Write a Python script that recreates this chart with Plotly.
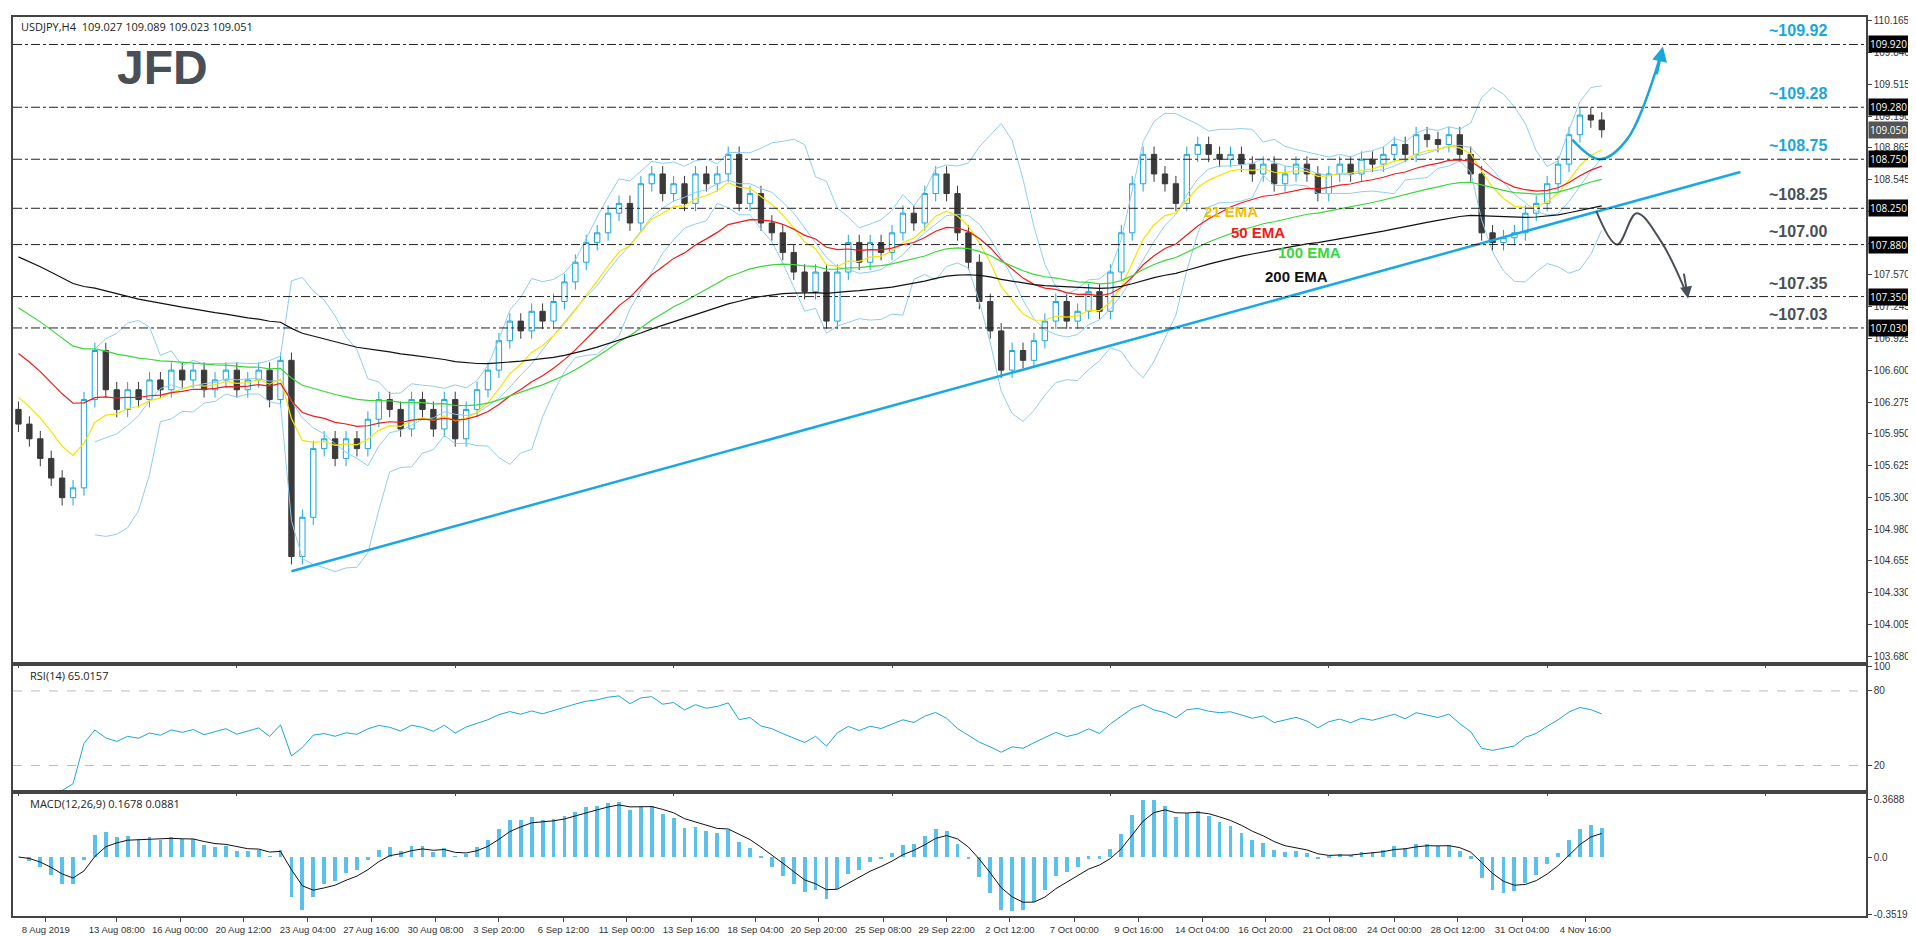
import numpy as np
import pandas as pd
import plotly.graph_objects as go
from plotly.subplots import make_subplots

# closes (compressed to ~146 bars)
closes = [106.05, 105.9, 105.7, 105.5, 105.3, 105.4, 106.3, 106.8, 106.4, 106.2,
          106.4, 106.3, 106.5, 106.4, 106.6, 106.5, 106.6, 106.4, 106.5, 106.6,
          106.4, 106.5, 106.6, 106.3, 106.7, 104.7, 105.1, 105.8, 105.9, 105.7,
          105.9, 105.8, 106.1, 106.3, 106.2, 106.0, 106.3, 106.2, 106.0, 106.3,
          105.9, 106.2, 106.4, 106.6, 106.9, 107.1, 107.0, 107.2, 107.1, 107.3,
          107.5, 107.7, 107.9, 108.0, 108.2, 108.3, 108.1, 108.5, 108.6, 108.4,
          108.5, 108.3, 108.6, 108.5, 108.6, 108.8, 108.3, 108.4, 108.1, 108.0,
          107.8, 107.6, 107.4, 107.6, 107.1, 107.6, 107.9, 107.7, 107.9, 107.8,
          108.0, 108.2, 108.1, 108.4, 108.6, 108.4, 108.0, 107.7, 107.3, 107.0,
          106.6, 106.8, 106.7, 106.9, 107.1, 107.3, 107.1, 107.2, 107.4, 107.2,
          107.6, 108.0, 108.5, 108.8, 108.6, 108.5, 108.3, 108.8, 108.9, 108.8,
          108.75, 108.8, 108.7, 108.6, 108.7, 108.5, 108.6, 108.7, 108.6, 108.4,
          108.6, 108.7, 108.6, 108.75, 108.7, 108.8, 108.9, 108.8, 109.0, 108.95,
          108.9, 109.0, 108.8, 108.6, 108.0, 107.9, 107.95, 108.0, 108.2, 108.3,
          108.5, 108.7, 109.0, 109.2, 109.15, 109.05]
first_open = 106.2
wick = 0.08

# EMA starting values at left edge
ema_seeds = {21: 106.4, 50: 106.85, 100: 107.3, 200: 107.8}
ema_colors = {21: "#f5e400", 50: "#ee1c1c", 100: "#3ad63a", 200: "#111111"}

levels = [109.92, 109.28, 108.75, 108.25, 107.88, 107.35, 107.03]
level_text = ["~109.92", "~109.28", "~108.75", "~108.25", "~107.00", "~107.35", "~107.03"]
level_color = ["#1aa7d8", "#1aa7d8", "#1aa7d8", "#4a4f57", "#4a4f57", "#4a4f57", "#4a4f57"]

price_ticks = [110.165, 109.840, 109.515, 109.190, 108.865, 108.545, 108.220, 107.895,
               107.570, 107.245, 106.925, 106.600, 106.275, 105.950, 105.625, 105.300,
               104.980, 104.655, 104.330, 104.005, 103.680]

date_labels = ["8 Aug 2019", "13 Aug 08:00", "16 Aug 00:00", "20 Aug 12:00", "23 Aug 04:00",
               "27 Aug 16:00", "30 Aug 08:00", "3 Sep 20:00", "6 Sep 12:00", "11 Sep 00:00",
               "13 Sep 16:00", "18 Sep 04:00", "20 Sep 20:00", "25 Sep 08:00", "29 Sep 22:00",
               "2 Oct 12:00", "7 Oct 00:00", "9 Oct 16:00", "14 Oct 04:00", "16 Oct 20:00",
               "21 Oct 08:00", "24 Oct 00:00", "28 Oct 12:00", "31 Oct 04:00", "4 Nov 16:00"]
date_pos = [2.5, 9.0, 14.8, 20.6, 26.5, 32.3, 38.2, 44.0, 49.9, 55.7, 61.6, 67.5, 73.3,
            79.2, 85.0, 90.8, 96.7, 102.6, 108.4, 114.2, 120.1, 126.0, 131.8, 137.7, 143.5]

n = len(closes)
x = np.arange(n)
c = pd.Series(closes)
o = c.shift(1).fillna(first_open)
hi = np.maximum(o, c) + wick
lo = np.minimum(o, c) - wick


def ema(s, span, seed):
    a = 2 / (span * 0.38 + 1)
    out, v = [], seed
    for val in s:
        v = v + a * (val - v)
        out.append(v)
    return np.array(out)


bb_mid = c.rolling(8).mean()
bb_sd = c.rolling(8).std(ddof=0)

d = c.diff()
up = d.clip(lower=0).ewm(alpha=1 / 12, adjust=False).mean()
dn = (-d.clip(upper=0)).ewm(alpha=1 / 12, adjust=False).mean()
rsi = (100 - 100 / (1 + up / dn))
rsi[:4] = np.nan  # warm-up

macd = c.ewm(span=5, adjust=False).mean() - c.ewm(span=10, adjust=False).mean()
sig = macd.ewm(span=4, adjust=False).mean()

fig = make_subplots(rows=3, cols=1, shared_xaxes=True, vertical_spacing=0.004,
                    row_heights=[545, 105, 103])

for s in (bb_mid + 2 * bb_sd, bb_mid, bb_mid - 2 * bb_sd):
    fig.add_trace(go.Scatter(x=x, y=s, mode="lines", line=dict(color="#8fcdf0", width=1),
                             hoverinfo="skip"), row=1, col=1)
for span, seed in ema_seeds.items():
    fig.add_trace(go.Scatter(x=x, y=ema(closes, span, seed), mode="lines",
                             line=dict(color=ema_colors[span], width=1.2)), row=1, col=1)

fig.add_trace(go.Candlestick(x=x, open=o, high=hi, low=lo, close=c,
                             increasing=dict(line=dict(color="#1aa7d8", width=1), fillcolor="white"),
                             decreasing=dict(line=dict(color="#3a3a3a", width=1), fillcolor="#3a3a3a"),
                             whiskerwidth=0), row=1, col=1)

# trendline
fig.add_trace(go.Scatter(x=[25, 157.7], y=[104.55, 108.62], mode="lines",
                         line=dict(color="#1aa7e8", width=2.5)), row=1, col=1)
# scenario arrows
fig.add_trace(go.Scatter(x=[142.3, 144.8, 147.3, 150.5], y=[108.95, 108.75, 108.95, 109.85],
                         mode="lines", line=dict(color="#1aa7d8", width=2.5, shape="spline")),
              row=1, col=1)
fig.add_trace(go.Scatter(x=[144.5, 146.4, 148.2, 150.5, 152.8],
                         y=[108.22, 107.88, 108.2, 107.9, 107.37],
                         mode="lines", line=dict(color="#4a4f57", width=2, shape="spline")),
              row=1, col=1)
fig.add_annotation(x=150.6, y=109.9, ax=150.0, ay=109.6, xref="x", yref="y", axref="x", ayref="y",
                   showarrow=True, arrowhead=2, arrowsize=1.2, arrowwidth=2.5, arrowcolor="#1aa7d8", text="")
fig.add_annotation(x=152.9, y=107.33, ax=152.5, ay=107.6, xref="x", yref="y", axref="x", ayref="y",
                   showarrow=True, arrowhead=2, arrowsize=1.2, arrowwidth=2, arrowcolor="#4a4f57", text="")

for lv, t, col in zip(levels, level_text, level_color):
    fig.add_hline(y=lv, line=dict(color="#222", width=1, dash="dashdot"), row=1, col=1)
    fig.add_annotation(x=165.8, y=lv, xref="x", yref="y", text=f"<b>{t}</b>", showarrow=False,
                       yanchor="bottom", xanchor="right", yshift=3,
                       font=dict(size=16, color=col, family="Liberation Sans"))
    fig.add_annotation(x=1.0, y=lv, xref="paper", yref="y", text=f"{lv:.3f}", showarrow=False,
                       xanchor="left", xshift=2, bgcolor="black", font=dict(size=10, color="white"),
                       borderpad=1)
fig.add_annotation(x=1.0, y=closes[-1], xref="paper", yref="y", text=f"{closes[-1]:.3f}", showarrow=False,
                   xanchor="left", xshift=2, bgcolor="#555", font=dict(size=10, color="white"), borderpad=1)

for t, yy, col, xx in [("21 EMA", 108.22, "#f2c000", 111), ("50 EMA", 108.0, "#ee1c1c", 113.5),
                       ("100 EMA", 107.8, "#3ad63a", 118.2), ("200 EMA", 107.55, "#111", 117)]:
    fig.add_annotation(x=xx, y=yy, text=f"<b>{t}</b>", showarrow=False, xref="x", yref="y",
                       font=dict(size=15, color=col, family="Liberation Sans"))

fig.add_annotation(x=0.003, y=1.0, xref="paper", yref="paper", xanchor="left", yanchor="top",
                   text="USDJPY,H4  109.027 109.089 109.023 109.051", showarrow=False,
                   font=dict(size=11, color="#222"))
fig.add_annotation(x=0.055, y=0.975, xref="paper", yref="paper", xanchor="left", yanchor="top",
                   text="<b>JFD</b>", showarrow=False,
                   font=dict(size=48, color="#4a4f57", family="Liberation Sans"))

# RSI
fig.add_trace(go.Scatter(x=x, y=rsi, mode="lines", line=dict(color="#1aa7d8", width=1)), row=2, col=1)
for lv in (80, 20):
    fig.add_hline(y=lv, line=dict(color="#bbb", width=1, dash="dash"), row=2, col=1)
fig.add_annotation(x=0.008, y=1, xref="x2 domain", yref="y2 domain", xanchor="left", yanchor="top",
                   text="RSI(14) 65.0157", showarrow=False, font=dict(size=11, color="#222"))

# MACD
fig.add_trace(go.Bar(x=x, y=macd, marker=dict(color="#5bc0ea", line_width=0), width=0.35), row=3, col=1)
fig.add_trace(go.Scatter(x=x, y=sig, mode="lines", line=dict(color="#111", width=1)), row=3, col=1)
fig.add_annotation(x=0.008, y=1, xref="x3 domain", yref="y3 domain", xanchor="left", yanchor="top",
                   text="MACD(12,26,9) 0.1678 0.0881", showarrow=False, font=dict(size=11, color="#222"))

axis_common = dict(showgrid=False, zeroline=False, showline=True, linecolor="#444", linewidth=1.5,
                   mirror=True, ticks="outside", ticklen=4, tickcolor="#444",
                   tickfont=dict(size=10, color="#333", family="Liberation Sans"))
fig.update_xaxes(**axis_common, range=[-0.5, 169.2], rangeslider_visible=False)
fig.update_xaxes(tickvals=date_pos, ticktext=date_labels, tickangle=0,
                 tickfont=dict(size=9.5), row=3, col=1)
fig.update_xaxes(showticklabels=False, row=1, col=1)
fig.update_xaxes(showticklabels=False, row=2, col=1)
fig.update_yaxes(**axis_common, side="right")
fig.update_yaxes(range=[103.62, 110.2], tickvals=price_ticks,
                 ticktext=[f"{v:.3f}" for v in price_ticks], row=1, col=1)
fig.update_yaxes(range=[0, 100], tickvals=[20, 80, 100], row=2, col=1)
mlo, mhi = float(min(macd.min(), sig.min())) * 1.1, float(max(macd.max(), sig.max())) * 1.1
fig.update_yaxes(range=[mlo, mhi], tickvals=[mlo * 0.97, 0, mhi * 0.92],
                 ticktext=["-0.3519", "0.0", "0.3688"], row=3, col=1)

fig.update_layout(width=1916, height=936, showlegend=False, plot_bgcolor="white",
                  paper_bgcolor="white", margin=dict(l=3, r=58, t=4, b=28), bargap=0)
fig.write_html("out.html")
